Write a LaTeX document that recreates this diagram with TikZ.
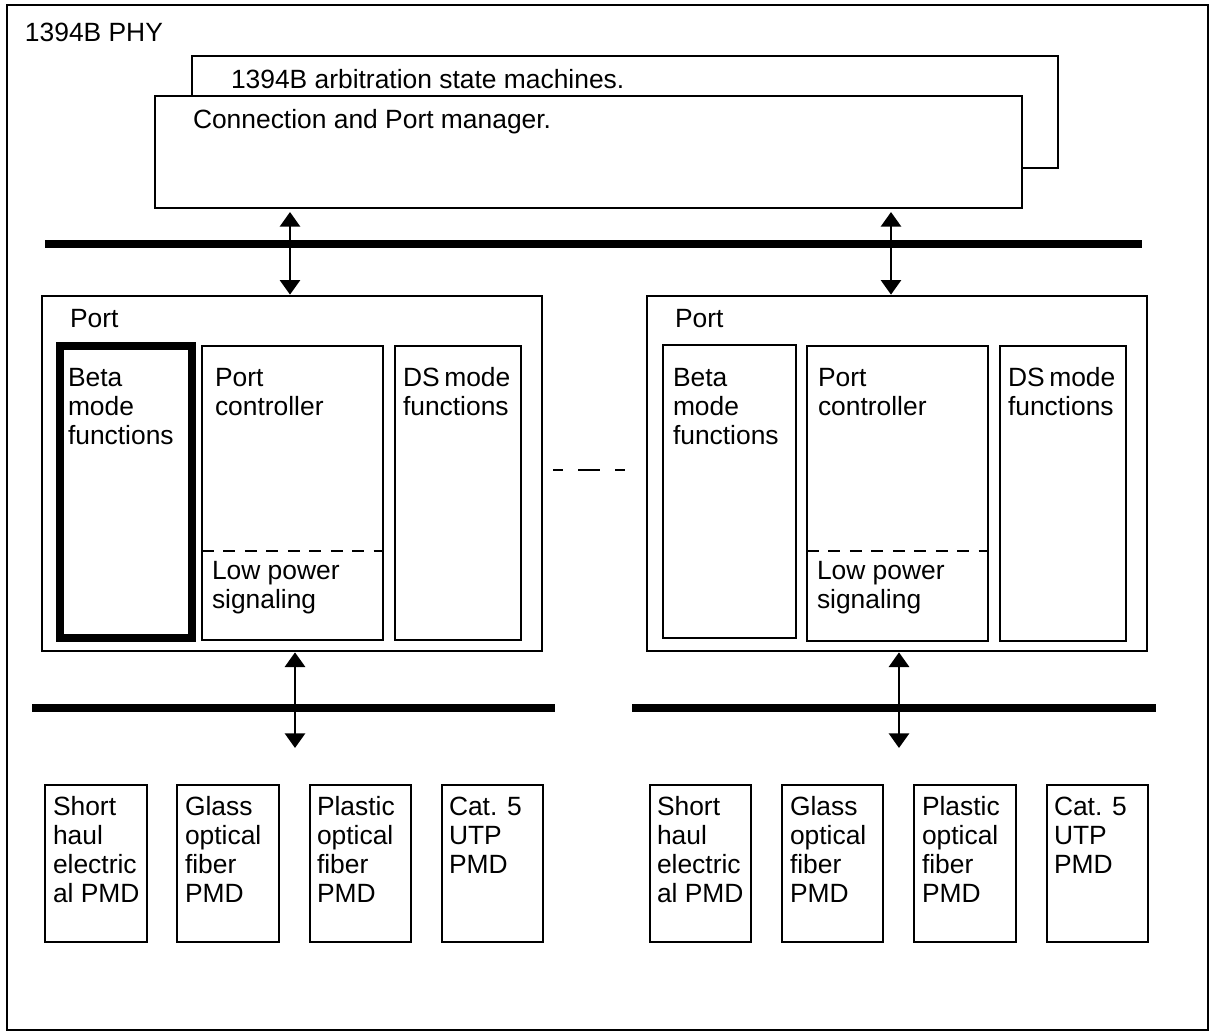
\documentclass[tikz,border=0pt]{standalone}
\usepackage{fontspec}
\setmainfont{Liberation Sans}
\usetikzlibrary{arrows.meta,fit}
\begin{document}
\begin{tikzpicture}[x=0.75pt,y=-0.75pt,
  box/.style={draw,line width=1.1pt,inner sep=0pt,outer sep=0pt},
  heavybox/.style={draw,line width=5.4pt,inner sep=0pt,outer sep=0pt},
  txt/.style={anchor=base west,inner sep=0pt,outer sep=0pt,align=left,
    font=\fontsize{19.8pt}{21.75pt}\selectfont},
  bus/.style={line width=5.3pt},
  arr/.style={line width=2.2pt,{Triangle[width=15pt,length=11pt]}-{Triangle[width=15pt,length=11pt]}},
  splitline/.style={line width=1.1pt,dash pattern=on 9pt off 7.1pt},
]
\useasboundingbox (0,0) rectangle (1211,1032);
\fill[white] (0,0) rectangle (1211,1032);
% outer frame
\node[box,line width=1.6pt,fit={(7,5) (1208,1030)}] (phy) {};
\node[txt] (phyt) at (25,41) {1394B PHY};
% manager boxes
\node[box,fit={(192,56) (1058,168)}] (arb) {};
\node[txt] (arbt) at (231,88) {1394B arbitration state machines.};
\node[box,fill=white,fit={(155,96) (1022,208)}] (cpm) {};
\node[txt] (cpmt) at (193,128) {Connection and Port manager.};
% top bus
\coordinate (b1l) at (45,244);
\coordinate (b1r) at (1142,244);
\draw[bus] (b1l) -- (b1r);
% left port
\node[box,fit={(42,296) (542,651)}] (portL) {};
\node[txt] (portLt) at (70,327) {Port};
\node[heavybox,fit={(60,346) (192,638)}] (betaL) {};
\node[txt] (betaLt) at (68,444) {Beta\\mode\\functions};
\node[box,fit={(202,346) (383,640)}] (pcL) {};
\node[txt] (pcLt) at (215,415) {Port\\controller};
\coordinate (dL1) at (202,551);
\coordinate (dL2) at (383,551);
\draw[splitline] (dL1) -- (dL2);
\node[txt] (lpLt) at (212,608) {Low power\\signaling};
\node[box,fit={(395,346) (521,640)}] (dsL) {};
\node[txt] (dsLt) at (403,415) {DS\kern-2pt\ mode\\functions};
% right port
\node[box,fit={(647,296) (1147,651)}] (portR) {};
\node[txt] (portRt) at (675,327) {Port};
\node[box,fit={(663,345) (796,638)}] (betaR) {};
\node[txt] (betaRt) at (673,444) {Beta\\mode\\functions};
\node[box,fit={(807,346) (988,641)}] (pcR) {};
\node[txt] (pcRt) at (818,415) {Port\\controller};
\coordinate (dR1) at (807,551);
\coordinate (dR2) at (988,551);
\draw[splitline] (dR1) -- (dR2);
\node[txt] (lpRt) at (817,608) {Low power\\signaling};
\node[box,fit={(1000,346) (1126,641)}] (dsR) {};
\node[txt] (dsRt) at (1008,415) {DS\kern-2pt\ mode\\functions};
% ellipsis between ports
\coordinate (el1) at (553,470);
\coordinate (el2) at (627,470);
\draw[line width=1.1pt,dash pattern=on 7.5pt off 11.25pt on 16.5pt off 11.25pt] (el1) -- (el2);
% arrows manager <-> ports
\coordinate (ax1) at (290,0);
\coordinate (ax2) at (891,0);
\draw[arr,shorten <=3pt,shorten >=1pt] (cpm.south -| ax1) -- (portL.north -| ax1);
\draw[arr,shorten <=3pt,shorten >=1pt] (cpm.south -| ax2) -- (portR.north -| ax2);
% lower buses
\coordinate (b2l) at (32,708);
\coordinate (b2r) at (555,708);
\draw[bus] (b2l) -- (b2r);
\coordinate (b3l) at (632,708);
\coordinate (b3r) at (1156,708);
\draw[bus] (b3l) -- (b3r);
\coordinate (lowL) at (295,748);
\coordinate (lowR) at (899,748);
\draw[arr,shorten <=1pt] (portL.south -| lowL) -- (lowL);
\draw[arr,shorten <=1pt] (portR.south -| lowR) -- (lowR);
% PMD boxes left
\node[box,fit={(45,785) (147,942)}] (shL) {};
\node[txt] (shLt) at (53,902) {Short\\haul\\electric\\al PMD};
\node[box,fit={(177,785) (279,942)}] (glL) {};
\node[txt] (glLt) at (185,902) {Glass\\optical\\fiber\\PMD};
\node[box,fit={(310,785) (411,942)}] (plL) {};
\node[txt] (plLt) at (317,902) {Plastic\\optical\\fiber\\PMD};
\node[box,fit={(442,785) (543,942)}] (caL) {};
\node[txt] (caLt) at (449,873) {Cat. 5\\UTP\\PMD};
% PMD boxes right
\node[box,fit={(650,785) (751,942)}] (shR) {};
\node[txt] (shRt) at (657,902) {Short\\haul\\electric\\al PMD};
\node[box,fit={(782,785) (883,942)}] (glR) {};
\node[txt] (glRt) at (790,902) {Glass\\optical\\fiber\\PMD};
\node[box,fit={(914,785) (1016,942)}] (plR) {};
\node[txt] (plRt) at (922,902) {Plastic\\optical\\fiber\\PMD};
\node[box,fit={(1047,785) (1148,942)}] (caR) {};
\node[txt] (caRt) at (1054,873) {Cat. 5\\UTP\\PMD};
\end{tikzpicture}
\end{document}
